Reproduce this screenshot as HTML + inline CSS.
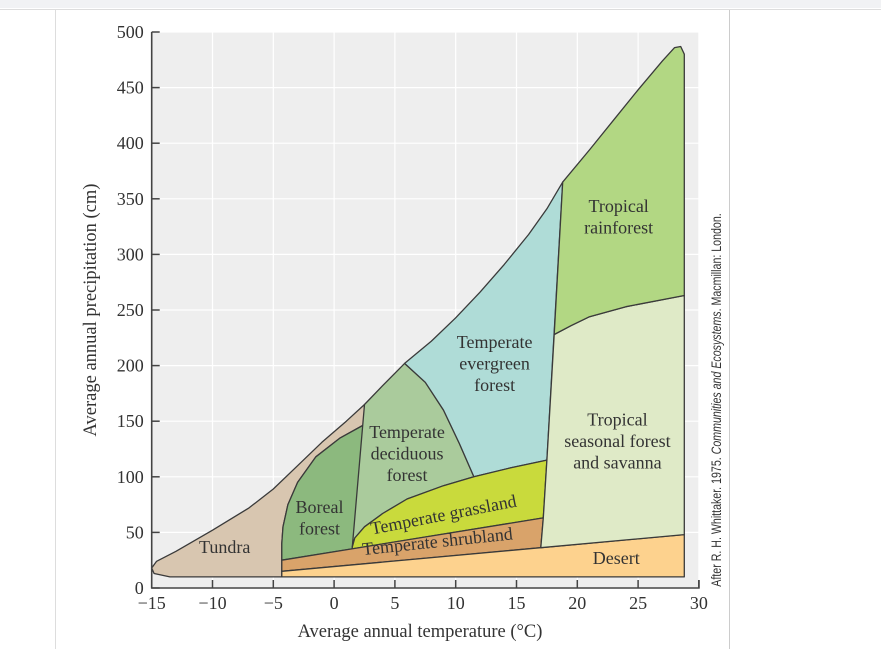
<!DOCTYPE html>
<html><head><meta charset="utf-8"><style>
html,body{margin:0;padding:0;background:#fff;width:881px;height:649px;overflow:hidden}
svg text{font-family:"Liberation Serif",serif;fill:#333}
</style></head><body>
<svg id="chart" width="881" height="649" xmlns="http://www.w3.org/2000/svg">
<rect x="0" y="0" width="881" height="8" fill="#f1f2f4"/>
<line x1="0" y1="9.5" x2="881" y2="9.5" stroke="#ddd"/>
<line x1="55.5" y1="10" x2="55.5" y2="649" stroke="#ddd"/>
<line x1="729.5" y1="10" x2="729.5" y2="649" stroke="#ccc"/>
<g id="grid"></g>
<g id="biomes"></g>
<g id="axes"></g>
<g id="labels"></g>
<text x="420" y="637" font-size="18.5" text-anchor="middle">Average annual temperature (°C)</text>
<text transform="translate(96,310) rotate(-90)" font-size="18.5" text-anchor="middle">Average annual precipitation (cm)</text>
<text transform="translate(721,400) rotate(-90) scale(0.76,1)" font-size="14" text-anchor="middle" style="font-family:'Liberation Sans',sans-serif">After R. H. Whittaker. 1975. <tspan font-style="italic">Communities and Ecosystems</tspan>. Macmillan: London.</text>
</svg>
<script>
const xTicks=[-15,-10,-5,0,5,10,15,20,25,30];
const yTicks=[0,50,100,150,200,250,300,350,400,450,500];
const biomeNames=["Tundra","Boreal forest","Temperate deciduous forest","Temperate evergreen forest","Temperate grassland","Temperate shrubland","Desert","Tropical seasonal forest and savanna","Tropical rainforest"];
const biomeColors=["#d8c6b0","#8cb97e","#aacb9c","#afdcd7","#c9da3c","#d9a36a","#fdd28e","#dfeac7","#b2d783"];
const tundraPts=[[-4.3,10],[-13.5,10],[-14.8,13],[-15,18],[-14.6,24],[-13,33],[-10,52],[-7,72],[-5,89],[-3,110],[-1,131],[1,150],[2.5,165],[2.5,147],[0.5,135],[-1.5,118],[-3,95],[-3.8,75],[-4.2,55],[-4.3,40],[-4.3,25]];
const borealPts=[[2.5,147],[0.5,135],[-1.5,118],[-3,95],[-3.8,75],[-4.2,55],[-4.3,40],[-4.3,25],[1.5,35.2]];
const deciduousPts=[[2.5,165],[4,182],[5.8,202],[7.5,185],[9,160],[10.3,130],[11.5,100],[9,92],[6,80],[4,67],[2.5,55],[1.7,45],[1.5,37]];
const evergreenPts=[[5.8,202],[8,222],[10,243],[12,266],[14,291],[16,318],[17.5,341],[18.8,365],[17.5,115],[14.5,108],[11.5,100],[10.3,130],[9,160],[7.5,185]];
const grasslandPts=[[1.5,37],[1.7,45],[2.5,55],[4,67],[6,80],[9,92],[11.5,100],[14.5,108],[17.5,115],[17.2,63],[1.5,35.2]];
const shrublandPts=[[-4.3,15],[-4.3,25],[17.2,63],[17,36.2]];
const desertPts=[[-4.3,10],[28.8,10],[28.8,48],[-4.3,15]];
const seasonalPts=[[17,36.2],[28.8,48],[28.8,263],[24,253],[21,244],[19.5,236],[18.1,228],[17.5,115],[17.2,63]];
const rainforestPts=[[18.1,228],[19.5,236],[21,244],[24,253],[28.8,263],[28.8,480],[28.5,487],[28,486],[27,474],[25,448],[23,421],[21,394],[18.8,365]];
const biomePolys=[tundraPts,borealPts,deciduousPts,evergreenPts,grasslandPts,shrublandPts,desertPts,seasonalPts,rainforestPts];
const biomeSlugs=["tundra","boreal-forest","temperate-deciduous-forest","temperate-evergreen-forest","temperate-grassland","temperate-shrubland","desert","tropical-seasonal-forest","tropical-rainforest"];
const labelLines=[["Tundra"],["Boreal","forest"],["Temperate","deciduous","forest"],["Temperate","evergreen","forest"],["Temperate grassland"],["Temperate shrubland"],["Desert"],["Tropical","seasonal forest","and savanna"],["Tropical","rainforest"]];
const labelAnchors=[[-9,37],[-1.2,63],[6,121],[13.2,202],[9,66],[8.5,42],[23.2,27],[23.3,132],[23.4,334]];
const labelRot=[0,0,0,0,-11,-6,0,0,0];

const X0=151.7,PXT=12.16,Y0=588,PYP=1.112;
const sx=t=>X0+(t+15)*PXT, sy=p=>Y0-p*PYP;
const NS="http://www.w3.org/2000/svg";
function mk(tag,attrs,parent){const e=document.createElementNS(NS,tag);for(const k in attrs)e.setAttribute(k,attrs[k]);parent.appendChild(e);return e;}
const grid=document.getElementById('grid'),axes=document.getElementById('axes'),bio=document.getElementById('biomes'),lab=document.getElementById('labels');
const bg=mk('rect',{x:sx(-15),y:sy(500),width:sx(30)-sx(-15),height:sy(0)-sy(500),fill:'#eeeeee'},grid);


xTicks.forEach(t=>{
 const l=mk('line',{x1:sx(t),x2:sx(t),y1:sy(500),y2:sy(0),stroke:'#fff','stroke-width':1.2},grid);
 
 
 const tk=mk('line',{x1:sx(t),x2:sx(t),y1:sy(0),y2:sy(0)-8,stroke:'#444','stroke-width':1.5},axes);
 
 
 const tx=mk('text',{x:sx(t),y:sy(0)+21,'font-size':18,'text-anchor':'middle'},axes);
 tx.textContent=(t<0?'\u2212'+(-t):String(t));
 
 
});
yTicks.forEach(p=>{
 const l=mk('line',{x1:sx(-15),x2:sx(30),y1:sy(p),y2:sy(p),stroke:'#fff','stroke-width':1.2},grid);
 
 
 const tk=mk('line',{x1:sx(-15),x2:sx(-15)+8,y1:sy(p),y2:sy(p),stroke:'#444','stroke-width':1.5},axes);
 
 
 const tx=mk('text',{x:sx(-15)-8,y:sy(p)+6,'font-size':18,'text-anchor':'end'},axes);
 tx.textContent=String(p);
 
 
});
const ax=mk('path',{d:`M${sx(-15)},${sy(500)}V${sy(0)}H${sx(30)}V${sy(0)-8}`,fill:'none',stroke:'#444','stroke-width':1.6},axes);


biomePolys.forEach((pts,i)=>{
 const d='M'+pts.map(q=>sx(q[0]).toFixed(1)+','+sy(q[1]).toFixed(1)).join('L')+'Z';
 const p=mk('path',{d:d,fill:biomeColors[i],stroke:'#3a3a3a','stroke-width':1.3,'stroke-linejoin':'round'},bio);
 
 
});
labelLines.forEach((lines,i)=>{
 const [t,p]=labelAnchors[i];const cx=sx(t),cy=sy(p);
 const g=mk('g',{transform:`rotate(${labelRot[i]},${cx},${cy})`},lab);
 
 
 const lh=21.5,start=cy-(lines.length-1)*lh/2+6;
 lines.forEach((s,j)=>{const tx=mk('text',{x:cx,y:start+j*lh,'font-size':18,'text-anchor':'middle'},g);tx.textContent=s;});
});
</script>
</body></html>
